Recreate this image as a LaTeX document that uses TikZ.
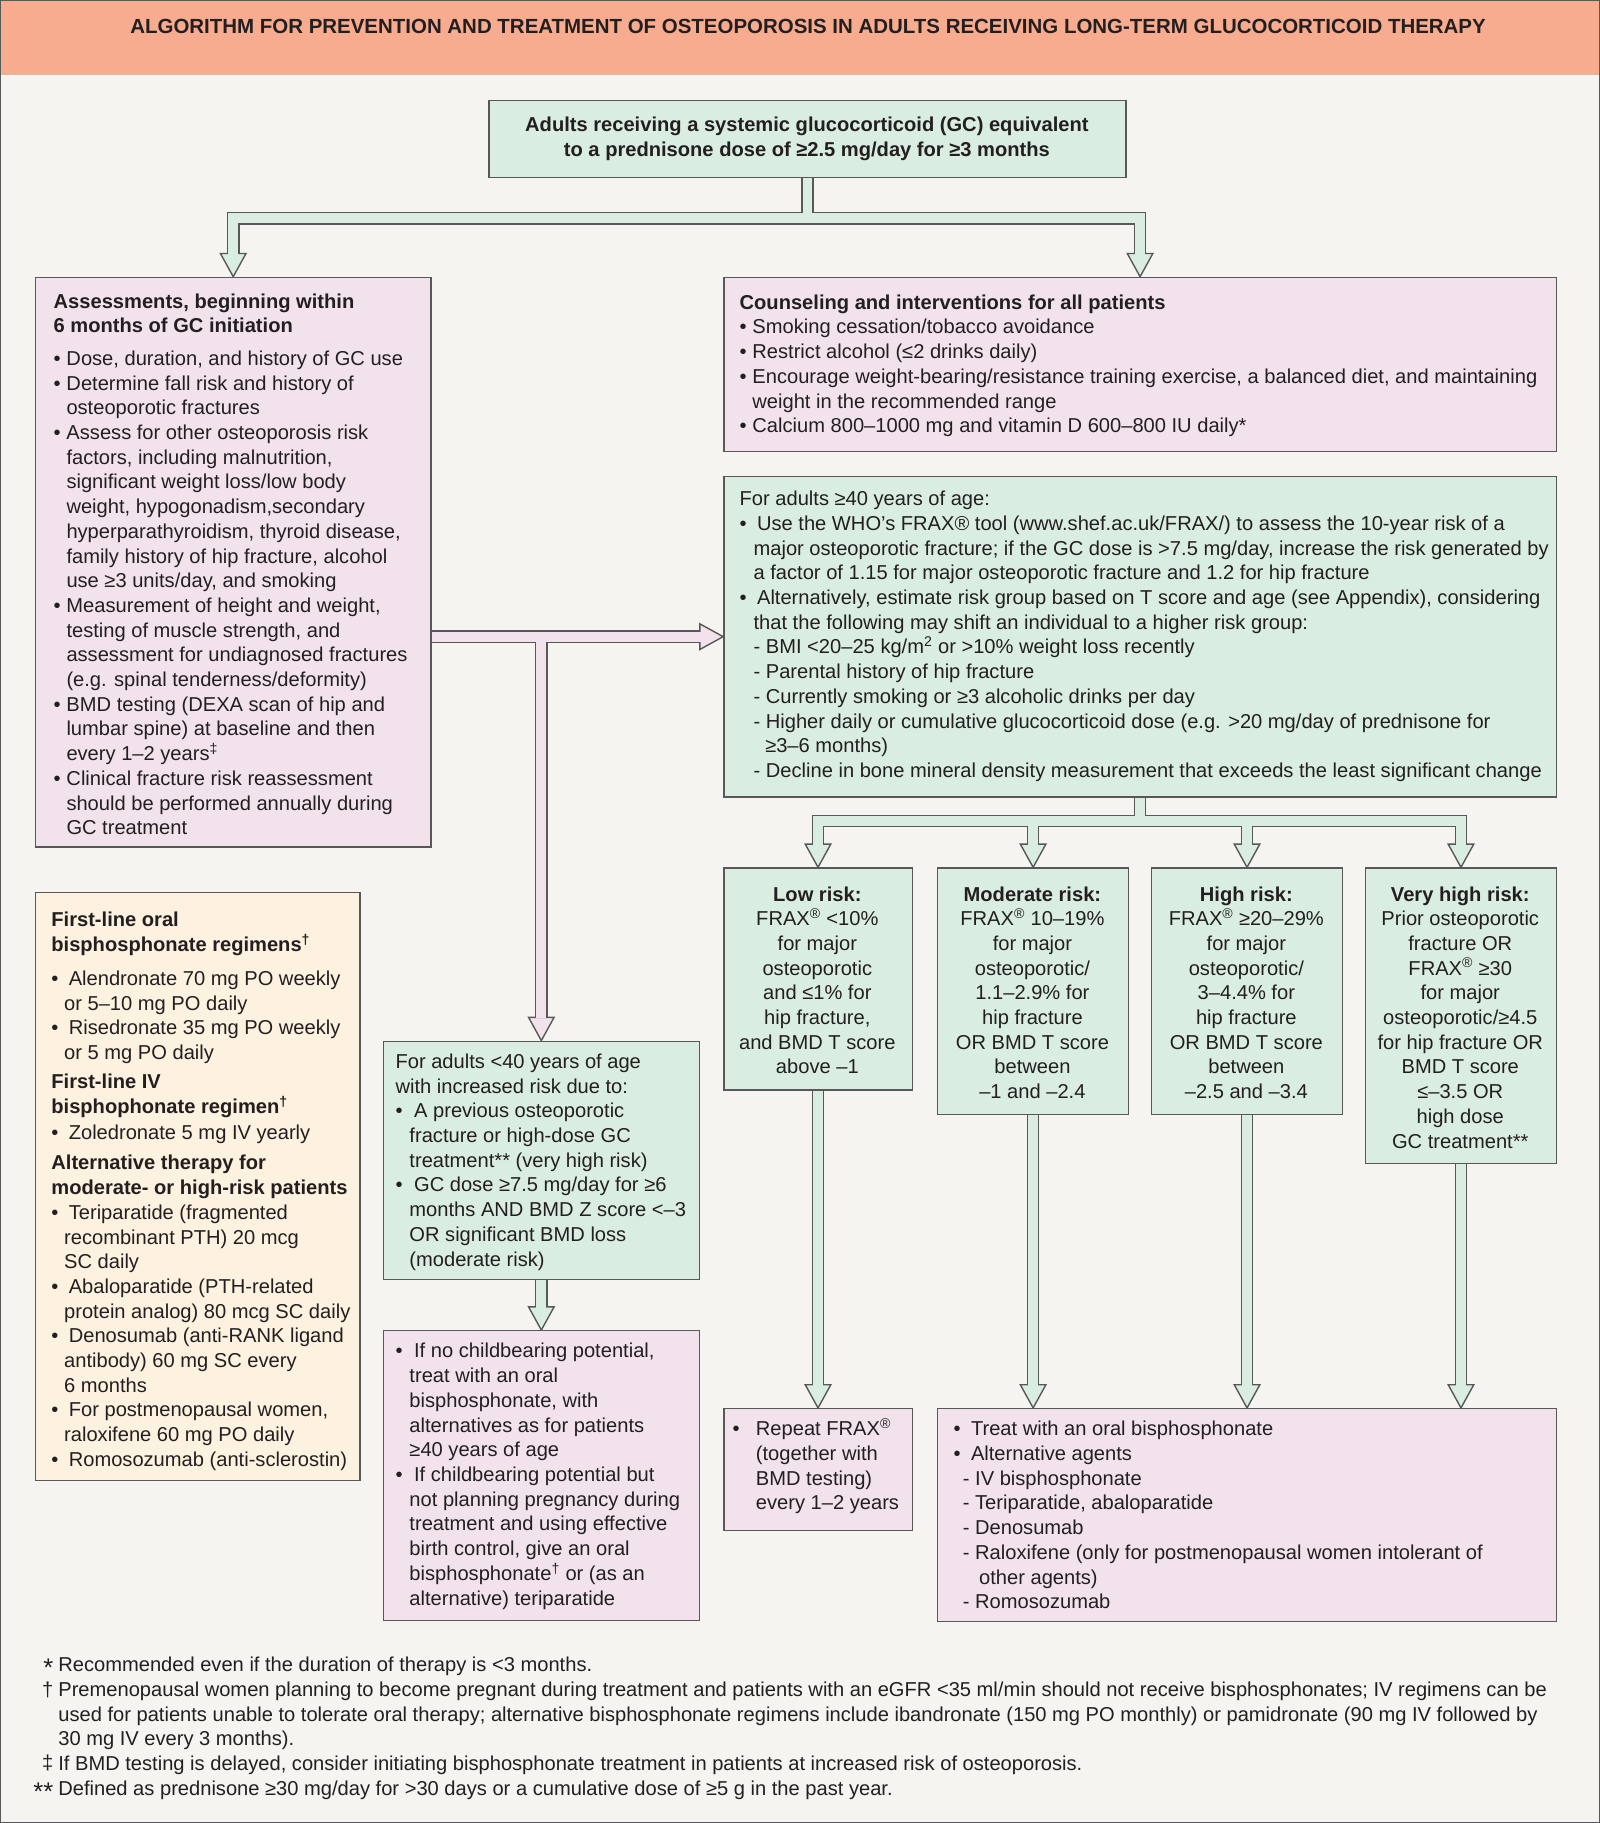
\documentclass[tikz,border=0pt]{standalone}
\usepackage{fontspec}
\setmainfont{Liberation Sans}
\usetikzlibrary{calc}
\definecolor{bgc}{HTML}{F5F4F0}
\definecolor{hdr}{HTML}{F8AC8F}
\definecolor{grn}{HTML}{D9EDE0}
\definecolor{pnk}{HTML}{F1E2EC}
\definecolor{org}{HTML}{FDF1DF}
\definecolor{bord}{HTML}{585858}
\definecolor{ink}{HTML}{231F20}
\pgfdeclarelayer{bgpage}
\pgfdeclarelayer{conn}
\pgfsetlayers{bgpage,conn,main}
\newcommand\bodyf{\fontsize{17.3}{21.25}\selectfont}
\newcommand\pb[1]{\parbox[t]{720pt}{\bodyf\raggedright #1}}
\newcommand\pw[1]{\parbox[t]{1400pt}{\bodyf\raggedright #1}}
\newcommand\pc[2]{\parbox[t]{#1}{\bodyf\centering #2}}
\newcommand\bu[1]{\makebox[#1][l]{•}}
\newcommand\ind[1]{\hspace*{#1}}
\tikzset{
  box/.style={draw=bord, line width=1.2pt, inner sep=0pt, anchor=north west},
  tx/.style={inner sep=0pt, anchor=base west, text=ink},
  txc/.style={inner sep=0pt, anchor=base, text=ink},
  cout/.style={draw=bord, line width=10.8pt},
  cin/.style={line width=8.4pt},
  ahd/.style={draw=bord, line width=1.2pt, line join=miter},
}
\begin{document}
\begin{tikzpicture}[x=1pt, y=-1pt]
\useasboundingbox (0,0) rectangle (1376,1568);
\begin{pgfonlayer}{bgpage}
  \fill[bgc] (0,0) rectangle (1376,1568);
  \fill[hdr] (0,0) rectangle (1376,64.5);
  \draw[white, line width=1pt] (0,65) -- (1376,65);
  \draw[bord, line width=2pt] (0,0) rectangle (1376,1568);
\end{pgfonlayer}

% title
\node[txc] (title) at (695,29) {\fontsize{17.6}{20}\selectfont\bfseries ALGORITHM FOR PREVENTION AND TREATMENT OF OSTEOPOROSIS IN ADULTS RECEIVING LONG-TERM GLUCOCORTICOID THERAPY};

% boxes
\node[box, fill=grn, minimum width=548pt, minimum height=66pt] (top) at (420,86) {};
\node[box, fill=pnk, minimum width=340pt, minimum height=490pt] (assess) at (30,238) {};
\node[box, fill=pnk, minimum width=716pt, minimum height=150pt] (couns) at (622,238) {};
\node[box, fill=grn, minimum width=716pt, minimum height=276pt] (frax) at (622,409) {};
\node[box, fill=org, minimum width=279pt, minimum height=506pt] (orng) at (30,767) {};
\node[box, fill=grn, minimum width=272pt, minimum height=205pt] (u40) at (329,895) {};
\node[box, fill=pnk, minimum width=272pt, minimum height=249pt] (child) at (329,1144) {};
\node[box, fill=grn, minimum width=162pt, minimum height=191pt] (low) at (622,746) {};
\node[box, fill=grn, minimum width=164pt, minimum height=212pt] (mod) at (806,746) {};
\node[box, fill=grn, minimum width=164pt, minimum height=212pt] (high) at (990,746) {};
\node[box, fill=grn, minimum width=164pt, minimum height=254pt] (vhigh) at (1174,746) {};
\node[box, fill=pnk, minimum width=162pt, minimum height=105pt] (rep) at (622,1211) {};
\node[box, fill=pnk, minimum width=532pt, minimum height=183pt] (treat) at (806,1211) {};

% connectors
\begin{pgfonlayer}{conn}
  \coordinate (j1) at ($(top.south)+(0,34.5)$);
  \coordinate (aL) at ($(assess.north)+(0,-20)$);
  \coordinate (aR) at ($(couns.north)+(0,-20)$);
  \coordinate (pL) at (assess.east |- frax.west);
  \coordinate (pB) at ($(frax.west)+(-20,0)$);
  \coordinate (pV) at (u40.north |- frax.west);
  \coordinate (pVb) at ($(u40.north)+(0,-20)$);
  \coordinate (j2) at ($(frax.south)+(0,20)$);
  \coordinate (bLo) at ($(low.north)+(0,-20)$);
  \coordinate (bMo) at ($(mod.north)+(0,-20)$);
  \coordinate (bHi) at ($(high.north)+(0,-20)$);
  \coordinate (bVh) at ($(vhigh.north)+(0,-20)$);
  \coordinate (bRep) at ($(rep.north)+(0,-20)$);
  \coordinate (tMo) at (mod.south |- treat.north);
  \coordinate (tHi) at (high.south |- treat.north);
  \coordinate (tVh) at (vhigh.south |- treat.north);
  \coordinate (bTMo) at ($(tMo)+(0,-20)$);
  \coordinate (bTHi) at ($(tHi)+(0,-20)$);
  \coordinate (bTVh) at ($(tVh)+(0,-20)$);
  \coordinate (bCh) at ($(child.north)+(0,-20)$);
  % outer strokes
  \draw[cout] (top.south) -- (j1);
  \draw[cout] (aL) -- (aL |- j1) -- (aR |- j1) -- (aR);
  \draw[cout] (pL) -- (pB);
  \draw[cout] (pV) -- (pVb);
  \draw[cout] (frax.south) -- (j2);
  \draw[cout] (bLo) -- (bLo |- j2) -- (bVh |- j2) -- (bVh);
  \draw[cout] (bMo |- j2) -- (bMo);
  \draw[cout] (bHi |- j2) -- (bHi);
  \draw[cout] (low.south) -- (bRep);
  \draw[cout] (mod.south) -- (bTMo);
  \draw[cout] (high.south) -- (bTHi);
  \draw[cout] (vhigh.south) -- (bTVh);
  \draw[cout] (u40.south) -- (bCh);
  % heads
  \draw[ahd, fill=grn] (assess.north) -- ++(-11,-20) -- ++(22,0) -- cycle;
  \draw[ahd, fill=grn] (couns.north) -- ++(-11,-20) -- ++(22,0) -- cycle;
  \draw[ahd, fill=pnk] (frax.west) -- ++(-20,-11) -- ++(0,22) -- cycle;
  \draw[ahd, fill=pnk] (u40.north) -- ++(-11,-20) -- ++(22,0) -- cycle;
  \draw[ahd, fill=grn] (low.north) -- ++(-11,-20) -- ++(22,0) -- cycle;
  \draw[ahd, fill=grn] (mod.north) -- ++(-11,-20) -- ++(22,0) -- cycle;
  \draw[ahd, fill=grn] (high.north) -- ++(-11,-20) -- ++(22,0) -- cycle;
  \draw[ahd, fill=grn] (vhigh.north) -- ++(-11,-20) -- ++(22,0) -- cycle;
  \draw[ahd, fill=grn] (rep.north) -- ++(-11,-20) -- ++(22,0) -- cycle;
  \draw[ahd, fill=grn] (tMo) -- ++(-11,-20) -- ++(22,0) -- cycle;
  \draw[ahd, fill=grn] (tHi) -- ++(-11,-20) -- ++(22,0) -- cycle;
  \draw[ahd, fill=grn] (tVh) -- ++(-11,-20) -- ++(22,0) -- cycle;
  \draw[ahd, fill=grn] (child.north) -- ++(-11,-20) -- ++(22,0) -- cycle;
  % inner strokes
  \draw[cin, grn] (top.south) -- (j1);
  \draw[cin, grn] ($(aL)+(0,1)$) -- (aL |- j1) -- (aR |- j1) -- ($(aR)+(0,1)$);
  \draw[cin, pnk] (pL) -- ($(pB)+(1,0)$);
  \draw[cin, pnk] (pV) -- ($(pVb)+(0,1)$);
  \draw[cin, grn] (frax.south) -- (j2);
  \draw[cin, grn] ($(bLo)+(0,1)$) -- (bLo |- j2) -- (bVh |- j2) -- ($(bVh)+(0,1)$);
  \draw[cin, grn] (bMo |- j2) -- ($(bMo)+(0,1)$);
  \draw[cin, grn] (bHi |- j2) -- ($(bHi)+(0,1)$);
  \draw[cin, grn] (low.south) -- ($(bRep)+(0,1)$);
  \draw[cin, grn] (mod.south) -- ($(bTMo)+(0,1)$);
  \draw[cin, grn] (high.south) -- ($(bTHi)+(0,1)$);
  \draw[cin, grn] (vhigh.south) -- ($(bTVh)+(0,1)$);
  \draw[cin, grn] (u40.south) -- ($(bCh)+(0,1)$);
\end{pgfonlayer}

% texts
\node[txc] (topT) at (694,113) {\pc{540pt}{\bfseries Adults receiving a systemic glucocorticoid (GC) equivalent\\ to a prednisone dose of ≥2.5 mg/day for ≥3 months}};

\node[tx] (assessT) at (46,265) {\pb{{\bfseries Assessments, beginning within\\ 6 months of GC initiation}\\[6.75pt]
\bu{11pt}Dose, duration, and history of GC use\\
\bu{11pt}Determine fall risk and history of\\
\ind{11pt}osteoporotic fractures\\
\bu{11pt}Assess for other osteoporosis risk\\
\ind{11pt}factors, including malnutrition,\\
\ind{11pt}significant weight loss/low body\\
\ind{11pt}weight, hypogonadism,secondary\\
\ind{11pt}hyperparathyroidism, thyroid disease,\\
\ind{11pt}family history of hip fracture, alcohol\\
\ind{11pt}use ≥3 units/day, and smoking\\
\bu{11pt}Measurement of height and weight,\\
\ind{11pt}testing of muscle strength, and\\
\ind{11pt}assessment for undiagnosed fractures\\
\ind{11pt}(e.g. spinal tenderness/deformity)\\
\bu{11pt}BMD testing (DEXA scan of hip and\\
\ind{11pt}lumbar spine) at baseline and then\\
\ind{11pt}every 1–2 years\textsuperscript{‡}\\
\bu{11pt}Clinical fracture risk reassessment\\
\ind{11pt}should be performed annually during\\
\ind{11pt}GC treatment}};

\node[tx] (counsT) at (636,266) {\pb{{\bfseries Counseling and interventions for all patients}\\
\bu{11pt}Smoking cessation/tobacco avoidance\\
\bu{11pt}Restrict alcohol (≤2 drinks daily)\\
\bu{11pt}Encourage weight-bearing/resistance training exercise, a balanced diet, and maintaining\\
\ind{11pt}weight in the recommended range\\
\bu{11pt}Calcium 800–1000 mg and vitamin D 600–800 IU daily*}};

\node[tx] (fraxT) at (636,435) {\pb{For adults ≥40 years of age:\\
\bu{15pt}Use the WHO’s FRAX® tool (www.shef.ac.uk/FRAX/) to assess the 10-year risk of a\\
\ind{12pt}major osteoporotic fracture; if the GC dose is >7.5 mg/day, increase the risk generated by\\
\ind{12pt}a factor of 1.15 for major osteoporotic fracture and 1.2 for hip fracture\\
\bu{15pt}Alternatively, estimate risk group based on T score and age (see Appendix), considering\\
\ind{12pt}that the following may shift an individual to a higher risk group:\\
\ind{12pt}- BMI <20–25 kg/m\textsuperscript{2} or >10\% weight loss recently\\
\ind{12pt}- Parental history of hip fracture\\
\ind{12pt}- Currently smoking or ≥3 alcoholic drinks per day\\
\ind{12pt}- Higher daily or cumulative glucocorticoid dose (e.g. >20 mg/day of prednisone for\\
\ind{22pt}≥3–6 months)\\
\ind{12pt}- Decline in bone mineral density measurement that exceeds the least significant change}};

\node[txc] (lowT) at (703,775) {\pc{160pt}{{\bfseries Low risk:}\\ FRAX\textsuperscript{®} <10\%\\ for major\\ osteoporotic\\ and ≤1\% for\\ hip fracture,\\ and BMD T score\\ above –1}};
\node[txc] (modT) at (888,775) {\pc{160pt}{{\bfseries Moderate risk:}\\ FRAX\textsuperscript{®} 10–19\%\\ for major\\ osteoporotic/\\ 1.1–2.9\% for\\ hip fracture\\ OR BMD T score\\ between\\ –1 and –2.4}};
\node[txc] (highT) at (1072,775) {\pc{160pt}{{\bfseries High risk:}\\ FRAX\textsuperscript{®} ≥20–29\%\\ for major\\ osteoporotic/\\ 3–4.4\% for\\ hip fracture\\ OR BMD T score\\ between\\ –2.5 and –3.4}};
\node[txc] (vhighT) at (1256,775) {\pc{162pt}{{\bfseries Very high risk:}\\ Prior osteoporotic\\ fracture OR\\ FRAX\textsuperscript{®} ≥30\\ for major\\ osteoporotic/≥4.5\\ for hip fracture OR\\ BMD T score\\ ≤–3.5 OR\\ high dose\\ GC treatment**}};

\node[tx] (orngT) at (44,797) {\pb{{\bfseries First-line oral\\ bisphosphonate regimens\textsuperscript{†}}\\[8pt]
\bu{15pt}Alendronate 70 mg PO weekly\\
\ind{11pt}or 5–10 mg PO daily\\
\bu{15pt}Risedronate 35 mg PO weekly\\
\ind{11pt}or 5 mg PO daily\\[4pt]
{\bfseries First-line IV\\ bisphophonate regimen\textsuperscript{†}}\\[1pt]
\bu{15pt}Zoledronate 5 mg IV yearly\\[5pt]
{\bfseries Alternative therapy for\\ moderate- or high-risk patients}\\
\bu{15pt}Teriparatide (fragmented\\
\ind{11pt}recombinant PTH) 20 mcg\\
\ind{11pt}SC daily\\
\bu{15pt}Abaloparatide (PTH-related\\
\ind{11pt}protein analog) 80 mcg SC daily\\
\bu{15pt}Denosumab (anti-RANK ligand\\
\ind{11pt}antibody) 60 mg SC every\\
\ind{11pt}6 months\\
\bu{15pt}For postmenopausal women,\\
\ind{11pt}raloxifene 60 mg PO daily\\
\bu{15pt}Romosozumab (anti-sclerostin)}};

\node[tx] (u40T) at (340,919) {\pb{For adults <40 years of age\\
with increased risk due to:\\
\bu{16pt}A previous osteoporotic\\
\ind{12pt}fracture or high-dose GC\\
\ind{12pt}treatment** (very high risk)\\
\bu{16pt}GC dose ≥7.5 mg/day for ≥6\\
\ind{12pt}months AND BMD Z score <–3\\
\ind{12pt}OR significant BMD loss\\
\ind{12pt}(moderate risk)}};

\node[tx] (childT) at (340,1168) {\pb{\bu{16pt}If no childbearing potential,\\
\ind{12pt}treat with an oral\\
\ind{12pt}bisphosphonate, with\\
\ind{12pt}alternatives as for patients\\
\ind{12pt}≥40 years of age\\
\bu{16pt}If childbearing potential but\\
\ind{12pt}not planning pregnancy during\\
\ind{12pt}treatment and using effective\\
\ind{12pt}birth control, give an oral\\
\ind{12pt}bisphosphonate\textsuperscript{†} or (as an\\
\ind{12pt}alternative) teriparatide}};

\node[tx] (repT) at (630,1235) {\pb{\bu{20pt}Repeat FRAX\textsuperscript{®}\\
\ind{20pt}(together with\\
\ind{20pt}BMD testing)\\
\ind{20pt}every 1–2 years}};

\node[tx] (treatT) at (820,1235) {\pb{\bu{15pt}Treat with an oral bisphosphonate\\
\bu{15pt}Alternative agents\\
\ind{8pt}- IV bisphosphonate\\
\ind{8pt}- Teriparatide, abaloparatide\\
\ind{8pt}- Denosumab\\
\ind{8pt}- Raloxifene (only for postmenopausal women intolerant of\\
\ind{22pt}other agents)\\
\ind{8pt}- Romosozumab}};

% footnotes
\node[tx, anchor=base east] (fs1) at (46,1442) {\fontsize{22}{22}\selectfont *};
\node[tx, anchor=base east] (fs2) at (46,1459) {\bodyf †};
\node[tx, anchor=base east] (fs3) at (46,1522) {\bodyf ‡};
\node[tx, anchor=base east] (fs4) at (46,1549) {\fontsize{22}{22}\selectfont **};
\node[tx] (fnT) at (50,1438) {\pw{Recommended even if the duration of therapy is <3 months.\\
Premenopausal women planning to become pregnant during treatment and patients with an eGFR <35 ml/min should not receive bisphosphonates; IV regimens can be\\
used for patients unable to tolerate oral therapy; alternative bisphosphonate regimens include ibandronate (150 mg PO monthly) or pamidronate (90 mg IV followed by\\
30 mg IV every 3 months).\\
If BMD testing is delayed, consider initiating bisphosphonate treatment in patients at increased risk of osteoporosis.\\
Defined as prednisone ≥30 mg/day for >30 days or a cumulative dose of ≥5 g in the past year.}};
\end{tikzpicture}
\end{document}
